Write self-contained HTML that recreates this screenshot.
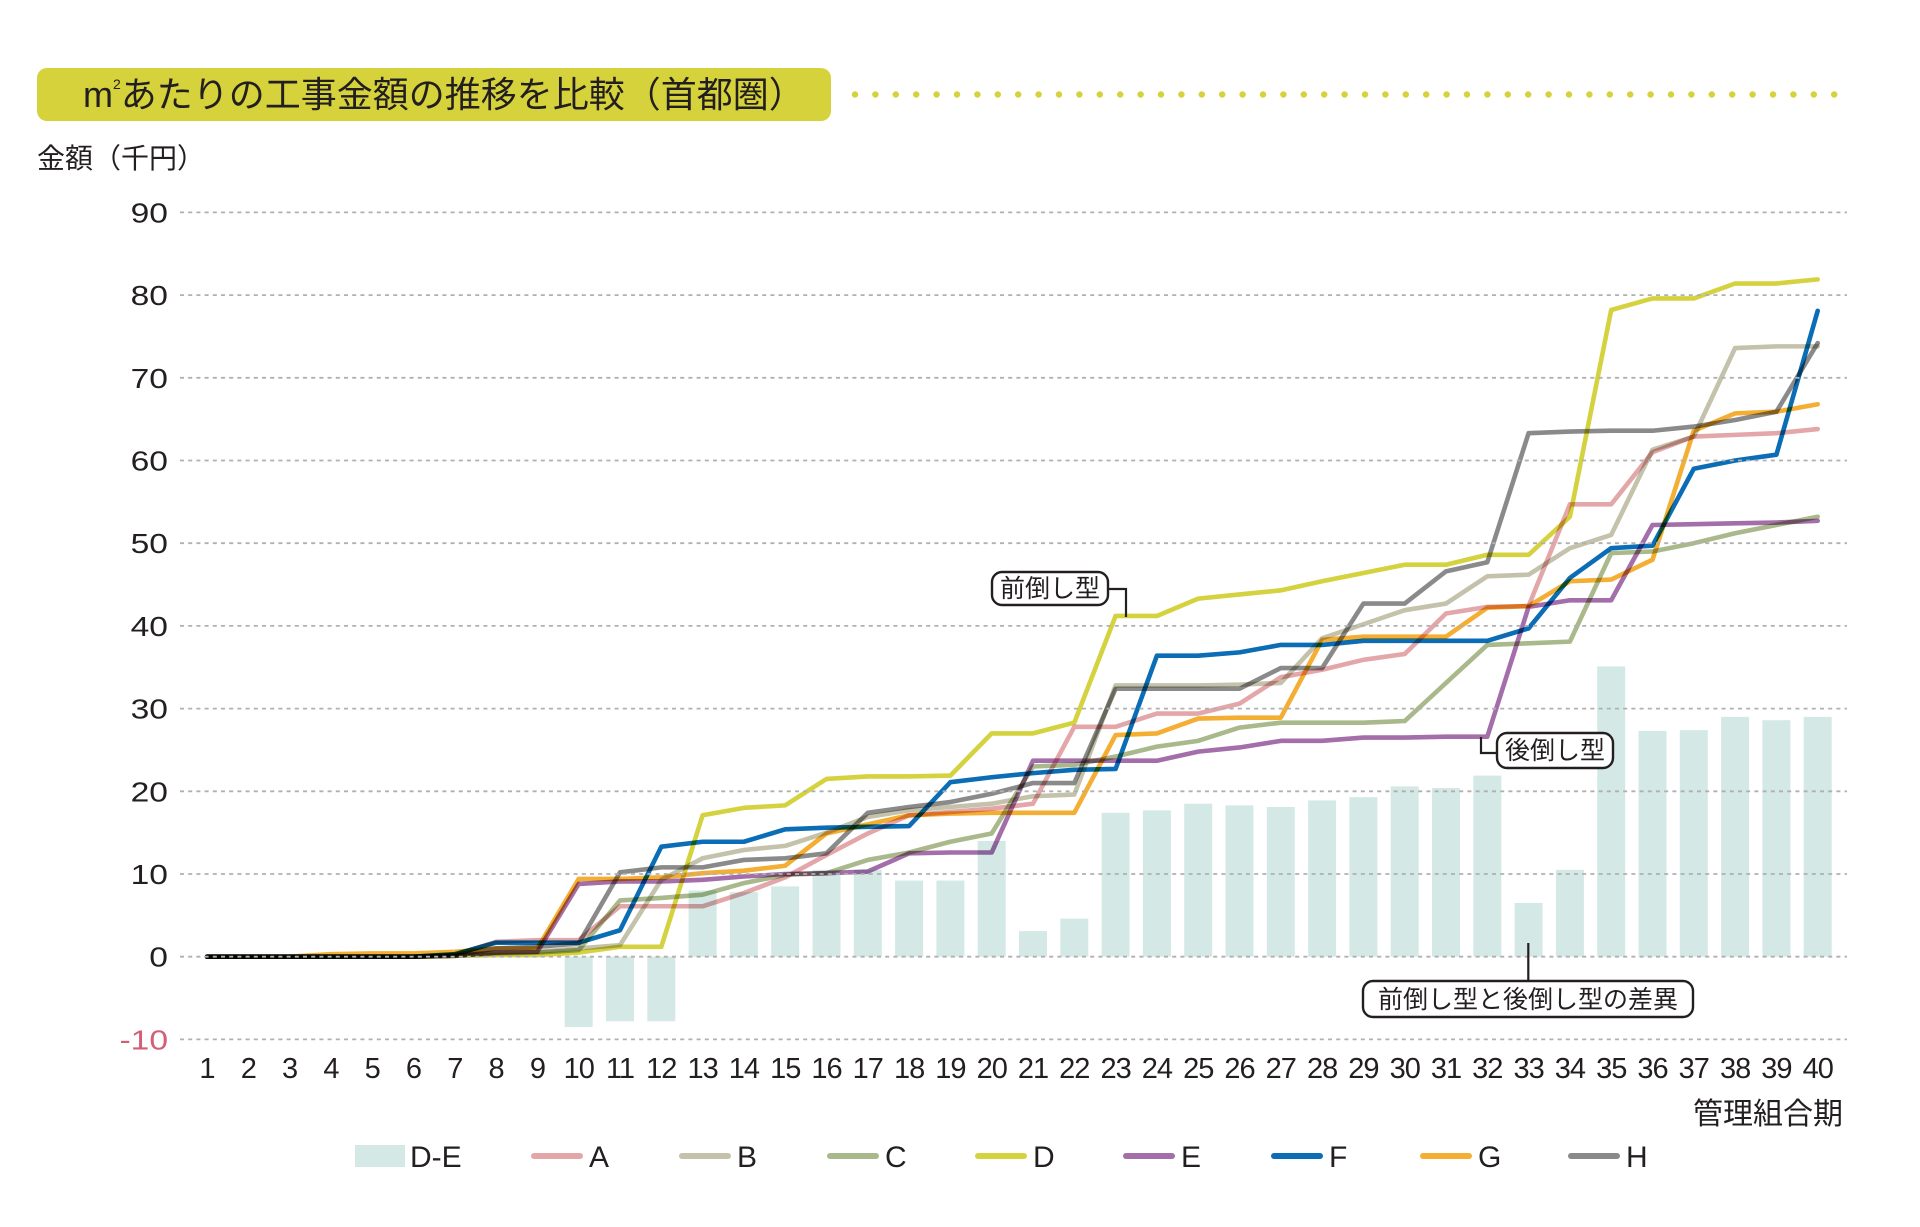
<!DOCTYPE html>
<html><head><meta charset="utf-8">
<style>html,body{margin:0;padding:0;background:#fff}svg{display:block}</style>
</head><body>
<svg width="1920" height="1227" viewBox="0 0 1920 1227" xmlns="http://www.w3.org/2000/svg" font-family="'Liberation Sans','Noto Sans CJK JP',sans-serif">
<rect width="1920" height="1227" fill="#fff"/>

<rect x="37" y="68" width="794" height="53" rx="10" fill="#d6d23c"/>
<text x="83" y="107" font-size="36" fill="#231f20">m<tspan font-size="14" dy="-18">2</tspan><tspan dy="18" font-family="'Noto Sans CJK JP',sans-serif">あたりの工事金額の推移を比較（首都圏）</tspan></text>
<line x1="855" y1="94.5" x2="1836" y2="94.5" stroke="#d6d23c" stroke-width="6.5" stroke-linecap="round" stroke-dasharray="0 20.4"/>

<text x="37" y="168" font-size="28" fill="#231f20" font-family="'Noto Sans CJK JP',sans-serif">金額（千円）</text>

<g transform="translate(165.7 956.7) scale(41.3 -8.27)" fill="#d4e9e6">
<rect x="9.661" y="-8.5" width="0.678" height="8.5"/>
<rect x="10.661" y="-7.8" width="0.678" height="7.8"/>
<rect x="11.661" y="-7.8" width="0.678" height="7.8"/>
<rect x="12.661" y="0" width="0.678" height="8.0"/>
<rect x="13.661" y="0" width="0.678" height="7.8"/>
<rect x="14.661" y="0" width="0.678" height="8.5"/>
<rect x="15.661" y="0" width="0.678" height="10.5"/>
<rect x="16.661" y="0" width="0.678" height="10.5"/>
<rect x="17.661" y="0" width="0.678" height="9.2"/>
<rect x="18.661" y="0" width="0.678" height="9.2"/>
<rect x="19.661" y="0" width="0.678" height="14.0"/>
<rect x="20.661" y="0" width="0.678" height="3.1"/>
<rect x="21.661" y="0" width="0.678" height="4.6"/>
<rect x="22.661" y="0" width="0.678" height="17.4"/>
<rect x="23.661" y="0" width="0.678" height="17.7"/>
<rect x="24.661" y="0" width="0.678" height="18.5"/>
<rect x="25.661" y="0" width="0.678" height="18.3"/>
<rect x="26.661" y="0" width="0.678" height="18.1"/>
<rect x="27.661" y="0" width="0.678" height="18.9"/>
<rect x="28.661" y="0" width="0.678" height="19.3"/>
<rect x="29.661" y="0" width="0.678" height="20.6"/>
<rect x="30.661" y="0" width="0.678" height="20.4"/>
<rect x="31.661" y="0" width="0.678" height="21.9"/>
<rect x="32.661" y="0" width="0.678" height="6.5"/>
<rect x="33.661" y="0" width="0.678" height="10.5"/>
<rect x="34.661" y="0" width="0.678" height="35.1"/>
<rect x="35.661" y="0" width="0.678" height="27.3"/>
<rect x="36.661" y="0" width="0.678" height="27.4"/>
<rect x="37.661" y="0" width="0.678" height="29.0"/>
<rect x="38.661" y="0" width="0.678" height="28.6"/>
<rect x="39.661" y="0" width="0.678" height="29.0"/>
</g>

<g transform="translate(165.7 956.7) scale(41.3 -8.27)" fill="none" stroke-width="4.6" stroke-linejoin="round" stroke-linecap="round">
<polyline vector-effect="non-scaling-stroke" style="mix-blend-mode:multiply" stroke="#e3a7aa" points="1,0 2,0 3,0 4,0 5,0 6,0 7,0.2 8,1.8 9,2 10,2 11,6.1 12,6.1 13,6.1 14,7.7 15,9.6 16,12.3 17,14.9 18,17.1 19,17.5 20,17.9 21,18.5 22,27.8 23,27.8 24,29.4 25,29.4 26,30.6 27,33.8 28,34.7 29,35.9 30,36.6 31,41.5 32,42.3 33,42.4 34,54.7 35,54.7 36,61 37,62.9 38,63.1 39,63.3 40,63.8"/>
<polyline vector-effect="non-scaling-stroke" style="mix-blend-mode:multiply" stroke="#c4c2ab" points="1,0 2,0 3,0 4,0 5,0 6,0 7,0.1 8,0.5 9,0.6 10,1 11,1.4 12,9.3 13,11.9 14,12.9 15,13.4 16,15 17,16.9 18,17.7 19,18.1 20,18.5 21,19.4 22,19.6 23,32.8 24,32.8 25,32.8 26,32.9 27,33.1 28,38.5 29,40.2 30,41.9 31,42.7 32,46 33,46.2 34,49.4 35,51 36,61.3 37,62.9 38,73.6 39,73.8 40,73.8"/>
<polyline vector-effect="non-scaling-stroke" style="mix-blend-mode:multiply" stroke="#a9b98b" points="1,0 2,0 3,0 4,0 5,0 6,0 7,0.1 8,0.4 9,0.5 10,0.8 11,6.8 12,7.1 13,7.5 14,8.9 15,9.9 16,10.1 17,11.7 18,12.6 19,13.9 20,14.9 21,23 22,23.2 23,24.2 24,25.4 25,26.1 26,27.7 27,28.3 28,28.3 29,28.3 30,28.5 31,33.1 32,37.7 33,37.9 34,38.1 35,48.8 36,49 37,50 38,51.2 39,52.2 40,53.2"/>
<polyline vector-effect="non-scaling-stroke" style="mix-blend-mode:multiply" stroke="#d5d23f" points="1,0 2,0 3,0 4,0 5,0 6,0 7,0.1 8,0.2 9,0.2 10,0.5 11,1.2 12,1.2 13,17.1 14,18 15,18.3 16,21.5 17,21.8 18,21.8 19,21.9 20,27 21,27 22,28.3 23,41.2 24,41.2 25,43.3 26,43.8 27,44.3 28,45.4 29,46.4 30,47.4 31,47.4 32,48.6 33,48.6 34,53.2 35,78.2 36,79.6 37,79.6 38,81.4 39,81.4 40,81.9"/>
<polyline vector-effect="non-scaling-stroke" style="mix-blend-mode:multiply" stroke="#a36ea9" points="1,0 2,0 3,0 4,0 5,0 6,0 7,0.1 8,0.5 9,0.6 10,8.8 11,9.1 12,9.1 13,9.3 14,9.7 15,10 16,10.1 17,10.3 18,12.5 19,12.6 20,12.6 21,23.7 22,23.7 23,23.7 24,23.7 25,24.8 26,25.3 27,26.1 28,26.1 29,26.5 30,26.5 31,26.6 32,26.6 33,42.3 34,43.1 35,43.1 36,52.2 37,52.3 38,52.4 39,52.5 40,52.7"/>
<polyline vector-effect="non-scaling-stroke" style="mix-blend-mode:multiply" stroke="#0b6db5" points="1,0 2,0 3,0 4,0 5,0 6,0 7,0.3 8,1.7 9,1.7 10,1.7 11,3.2 12,13.3 13,13.9 14,13.9 15,15.4 16,15.6 17,15.7 18,15.8 19,21.1 20,21.7 21,22.2 22,22.6 23,22.7 24,36.4 25,36.4 26,36.8 27,37.7 28,37.7 29,38.2 30,38.2 31,38.2 32,38.2 33,39.7 34,45.8 35,49.4 36,49.7 37,59 38,60 39,60.7 40,78.1"/>
<polyline vector-effect="non-scaling-stroke" style="mix-blend-mode:multiply" stroke="#f4ae33" points="1,0 2,0 3,0 4,0.3 5,0.4 6,0.4 7,0.6 8,1 9,1 10,9.4 11,9.4 12,9.6 13,10.1 14,10.4 15,11 16,14.9 17,16 18,17.1 19,17.3 20,17.4 21,17.4 22,17.4 23,26.8 24,27 25,28.8 26,28.9 27,28.9 28,38.3 29,38.7 30,38.7 31,38.7 32,42.2 33,42.4 34,45.4 35,45.6 36,48 37,63.6 38,65.7 39,65.9 40,66.8"/>
<polyline vector-effect="non-scaling-stroke" style="mix-blend-mode:multiply" stroke="#8a8a8a" points="1,0 2,0 3,0 4,0 5,0 6,0 7,0.2 8,1 9,1.2 10,1.6 11,10.2 12,10.8 13,10.8 14,11.7 15,11.9 16,12.5 17,17.4 18,18.1 19,18.7 20,19.7 21,21 22,21 23,32.4 24,32.4 25,32.4 26,32.4 27,34.9 28,34.9 29,42.7 30,42.7 31,46.6 32,47.7 33,63.3 34,63.5 35,63.6 36,63.6 37,64.1 38,64.9 39,65.9 40,74.2"/>
</g>

<g stroke="#b0b0b0" stroke-width="1.8" stroke-dasharray="4 4.2">
<line x1="180" y1="212.4" x2="1847" y2="212.4"/>
<line x1="180" y1="295.1" x2="1847" y2="295.1"/>
<line x1="180" y1="377.8" x2="1847" y2="377.8"/>
<line x1="180" y1="460.5" x2="1847" y2="460.5"/>
<line x1="180" y1="543.2" x2="1847" y2="543.2"/>
<line x1="180" y1="625.9" x2="1847" y2="625.9"/>
<line x1="180" y1="708.6" x2="1847" y2="708.6"/>
<line x1="180" y1="791.3" x2="1847" y2="791.3"/>
<line x1="180" y1="874" x2="1847" y2="874"/>
<line x1="180" y1="956.7" x2="1847" y2="956.7"/>
<line x1="180" y1="1039.4" x2="1847" y2="1039.4"/>
</g>

<g font-size="28" fill="#231f20" text-anchor="end">
<text transform="translate(168 222.4) scale(1.2 1)">90</text>
<text transform="translate(168 305.1) scale(1.2 1)">80</text>
<text transform="translate(168 387.8) scale(1.2 1)">70</text>
<text transform="translate(168 470.5) scale(1.2 1)">60</text>
<text transform="translate(168 553.2) scale(1.2 1)">50</text>
<text transform="translate(168 635.9) scale(1.2 1)">40</text>
<text transform="translate(168 718.6) scale(1.2 1)">30</text>
<text transform="translate(168 801.3) scale(1.2 1)">20</text>
<text transform="translate(168 884) scale(1.2 1)">10</text>
<text transform="translate(168 966.7) scale(1.2 1)">0</text>
<text transform="translate(168 1049.4) scale(1.2 1)" fill="#d25f75">-10</text>
</g>

<g font-size="29" fill="#231f20" text-anchor="middle" letter-spacing="-1">
<text x="207" y="1078">1</text>
<text x="248.3" y="1078">2</text>
<text x="289.6" y="1078">3</text>
<text x="330.9" y="1078">4</text>
<text x="372.2" y="1078">5</text>
<text x="413.5" y="1078">6</text>
<text x="454.8" y="1078">7</text>
<text x="496.1" y="1078">8</text>
<text x="537.4" y="1078">9</text>
<text x="578.7" y="1078">10</text>
<text x="620" y="1078">11</text>
<text x="661.3" y="1078">12</text>
<text x="702.6" y="1078">13</text>
<text x="743.9" y="1078">14</text>
<text x="785.2" y="1078">15</text>
<text x="826.5" y="1078">16</text>
<text x="867.8" y="1078">17</text>
<text x="909.1" y="1078">18</text>
<text x="950.4" y="1078">19</text>
<text x="991.7" y="1078">20</text>
<text x="1033" y="1078">21</text>
<text x="1074.3" y="1078">22</text>
<text x="1115.6" y="1078">23</text>
<text x="1156.9" y="1078">24</text>
<text x="1198.2" y="1078">25</text>
<text x="1239.5" y="1078">26</text>
<text x="1280.8" y="1078">27</text>
<text x="1322.1" y="1078">28</text>
<text x="1363.4" y="1078">29</text>
<text x="1404.7" y="1078">30</text>
<text x="1446" y="1078">31</text>
<text x="1487.3" y="1078">32</text>
<text x="1528.6" y="1078">33</text>
<text x="1569.9" y="1078">34</text>
<text x="1611.2" y="1078">35</text>
<text x="1652.5" y="1078">36</text>
<text x="1693.8" y="1078">37</text>
<text x="1735.1" y="1078">38</text>
<text x="1776.4" y="1078">39</text>
<text x="1817.7" y="1078">40</text>
</g>

<text x="1843" y="1124" font-size="30" fill="#231f20" text-anchor="end" font-family="'Noto Sans CJK JP',sans-serif">管理組合期</text>

<g fill="none" stroke="#231f20" stroke-width="2.2">
<path d="M1108 589 H1126 V617"/>
<path d="M1481 737 V753 H1497"/>
<path d="M1528.3 943 V981"/>
</g>
<g fill="#fff" stroke="#231f20" stroke-width="2.4">
<rect x="992" y="572" width="116" height="33" rx="10"/>
<rect x="1497" y="733" width="116" height="35" rx="10"/>
<rect x="1363" y="981" width="330" height="36" rx="10"/>
</g>
<g font-size="25" fill="#231f20" text-anchor="middle" font-family="'Noto Sans CJK JP',sans-serif">
<text x="1050" y="597">前倒し型</text>
<text x="1555" y="759">後倒し型</text>
<text x="1528" y="1008">前倒し型と後倒し型の差異</text>
</g>

<rect x="355" y="1145" width="50" height="22" fill="#d4e9e6"/>
<g stroke-width="6" stroke-linecap="round">
<line x1="534" y1="1156" x2="580" y2="1156" stroke="#e3a7aa"/>
<line x1="682" y1="1156" x2="728" y2="1156" stroke="#c4c2ab"/>
<line x1="830" y1="1156" x2="876" y2="1156" stroke="#a9b98b"/>
<line x1="978" y1="1156" x2="1024" y2="1156" stroke="#d5d23f"/>
<line x1="1126" y1="1156" x2="1172" y2="1156" stroke="#a36ea9"/>
<line x1="1274" y1="1156" x2="1320" y2="1156" stroke="#0b6db5"/>
<line x1="1423" y1="1156" x2="1469" y2="1156" stroke="#f4ae33"/>
<line x1="1571" y1="1156" x2="1617" y2="1156" stroke="#8a8a8a"/>
</g>
<g font-size="30" fill="#231f20">
<text x="410" y="1167">D-E</text>
<text x="589" y="1167">A</text>
<text x="737" y="1167">B</text>
<text x="885" y="1167">C</text>
<text x="1033" y="1167">D</text>
<text x="1181" y="1167">E</text>
<text x="1329" y="1167">F</text>
<text x="1478" y="1167">G</text>
<text x="1626" y="1167">H</text>
</g>
</svg>
</body></html>
